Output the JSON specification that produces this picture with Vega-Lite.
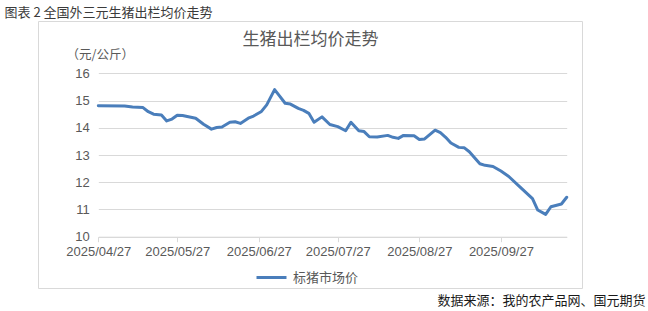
{
  "$schema": "https://vega.github.io/schema/vega-lite/v6.json",
  "width": 544,
  "height": 267,
  "autosize": {"type": "none"},
  "padding": {"left": 38, "top": 21, "right": 66, "bottom": 23},
  "background": "white",
  "data": {
    "values": [
      {"date": "2025-04-27", "price": 14.81},
      {"date": "2025-05-07", "price": 14.80},
      {"date": "2025-05-10", "price": 14.76},
      {"date": "2025-05-14", "price": 14.74},
      {"date": "2025-05-16", "price": 14.59},
      {"date": "2025-05-18", "price": 14.50},
      {"date": "2025-05-21", "price": 14.47},
      {"date": "2025-05-23", "price": 14.25},
      {"date": "2025-05-25", "price": 14.32},
      {"date": "2025-05-27", "price": 14.46},
      {"date": "2025-05-29", "price": 14.45},
      {"date": "2025-06-03", "price": 14.35},
      {"date": "2025-06-06", "price": 14.13},
      {"date": "2025-06-09", "price": 13.95},
      {"date": "2025-06-11", "price": 14.01},
      {"date": "2025-06-13", "price": 14.03},
      {"date": "2025-06-16", "price": 14.20},
      {"date": "2025-06-18", "price": 14.22},
      {"date": "2025-06-20", "price": 14.16},
      {"date": "2025-06-23", "price": 14.35},
      {"date": "2025-06-25", "price": 14.43},
      {"date": "2025-06-28", "price": 14.60},
      {"date": "2025-06-30", "price": 14.84},
      {"date": "2025-07-03", "price": 15.40},
      {"date": "2025-07-05", "price": 15.15},
      {"date": "2025-07-07", "price": 14.90},
      {"date": "2025-07-09", "price": 14.87},
      {"date": "2025-07-12", "price": 14.71},
      {"date": "2025-07-14", "price": 14.64},
      {"date": "2025-07-16", "price": 14.53},
      {"date": "2025-07-18", "price": 14.20},
      {"date": "2025-07-21", "price": 14.40},
      {"date": "2025-07-24", "price": 14.12},
      {"date": "2025-07-27", "price": 14.04},
      {"date": "2025-07-30", "price": 13.89},
      {"date": "2025-08-01", "price": 14.20},
      {"date": "2025-08-04", "price": 13.89},
      {"date": "2025-08-06", "price": 13.86},
      {"date": "2025-08-08", "price": 13.67},
      {"date": "2025-08-11", "price": 13.66},
      {"date": "2025-08-15", "price": 13.72},
      {"date": "2025-08-17", "price": 13.65},
      {"date": "2025-08-19", "price": 13.61},
      {"date": "2025-08-21", "price": 13.72},
      {"date": "2025-08-25", "price": 13.71},
      {"date": "2025-08-27", "price": 13.57},
      {"date": "2025-08-29", "price": 13.59},
      {"date": "2025-09-02", "price": 13.91},
      {"date": "2025-09-04", "price": 13.82},
      {"date": "2025-09-06", "price": 13.65},
      {"date": "2025-09-08", "price": 13.44},
      {"date": "2025-09-11", "price": 13.28},
      {"date": "2025-09-13", "price": 13.27},
      {"date": "2025-09-15", "price": 13.12},
      {"date": "2025-09-19", "price": 12.68},
      {"date": "2025-09-21", "price": 12.62},
      {"date": "2025-09-24", "price": 12.58},
      {"date": "2025-09-27", "price": 12.41},
      {"date": "2025-09-30", "price": 12.21},
      {"date": "2025-10-04", "price": 11.85},
      {"date": "2025-10-09", "price": 11.40},
      {"date": "2025-10-11", "price": 10.98},
      {"date": "2025-10-14", "price": 10.82},
      {"date": "2025-10-16", "price": 11.10},
      {"date": "2025-10-20", "price": 11.20},
      {"date": "2025-10-22", "price": 11.45}
    ]
  },
  "layer": [
    {
      "mark": {"type": "line", "strokeWidth": 3, "strokeJoin": "round", "strokeCap": "round"},
      "encoding": {
        "x": {
          "field": "date",
          "type": "temporal",
          "scale": {
            "type": "utc",
            "domain": [
              {"year": 2025, "month": 4, "date": 27, "utc": true},
              {"year": 2025, "month": 10, "date": 22, "utc": true}
            ],
            "range": [60.3, 528.7]
          },
          "axis": {
            "orient": "bottom",
            "offset": -51.3,
            "values": [
              {"year": 2025, "month": 4, "date": 27, "utc": true},
              {"year": 2025, "month": 5, "date": 27, "utc": true},
              {"year": 2025, "month": 6, "date": 27, "utc": true},
              {"year": 2025, "month": 7, "date": 27, "utc": true},
              {"year": 2025, "month": 8, "date": 27, "utc": true},
              {"year": 2025, "month": 9, "date": 27, "utc": true}
            ],
            "labelExpr": "utcFormat(datum.value, '%Y/%m/%d')",
            "labelFlush": false,
            "labelOverlap": false,
            "grid": false,
            "domain": true,
            "domainColor": "#d9d9d9",
            "ticks": true,
            "tickColor": "#d9d9d9",
            "tickSize": 5,
            "labelPadding": 4,
            "labelFont": "Liberation Sans",
            "labelFontSize": 13,
            "labelColor": "#595959",
            "title": "数据来源：我的农产品网、国元期货",
            "titleX": 607,
            "titleY": 64,
            "titleAlign": "right",
            "titleBaseline": "middle",
            "titleFont": "Noto Sans CJK SC",
            "titleFontSize": 13,
            "titleFontWeight": "normal",
            "titleColor": "#1a1a1a"
          }
        },
        "y": {
          "field": "price",
          "type": "quantitative",
          "scale": {"domain": [10, 16], "range": [215.7, 52.3], "nice": false, "zero": false},
          "axis": {
            "values": [10, 11, 12, 13, 14, 15, 16],
            "offset": -60.3,
            "domain": false,
            "ticks": false,
            "tickSize": 0,
            "labelPadding": 9,
            "labelFont": "Liberation Sans",
            "labelFontSize": 13,
            "labelColor": "#595959",
            "grid": true,
            "gridColor": "#d9d9d9",
            "gridWidth": 1,
            "title": "（元/公斤）",
            "titleAngle": 0,
            "titleAlign": "left",
            "titleBaseline": "middle",
            "titleX": -32.3,
            "titleY": 33,
            "titleFont": "Noto Sans CJK SC",
            "titleFontSize": 12.5,
            "titleFontWeight": "normal",
            "titleColor": "#595959"
          }
        },
        "color": {
          "datum": "标猪市场价",
          "scale": {"range": ["#4a7ebb"]},
          "legend": {
            "orient": "none",
            "legendX": 217,
            "legendY": 240,
            "title": null,
            "padding": 0,
            "symbolType": "stroke",
            "symbolSize": 900,
            "symbolStrokeWidth": 3,
            "labelFont": "Noto Sans CJK SC",
            "labelFontSize": 13,
            "labelColor": "#595959",
            "labelOffset": 5
          }
        }
      }
    },
    {
      "mark": {"type": "line", "strokeOpacity": 0},
      "encoding": {
        "x": {
          "field": "date",
          "type": "temporal",
          "scale": {
            "type": "utc",
            "domain": [
              {"year": 2025, "month": 4, "date": 27, "utc": true},
              {"year": 2025, "month": 10, "date": 22, "utc": true}
            ],
            "range": [60.3, 528.7]
          },
          "axis": {
            "orient": "top",
            "labels": false,
            "ticks": false,
            "domain": false,
            "grid": false,
            "title": "生猪出栏均价走势",
            "titleX": 272,
            "titleY": 18,
            "titleAlign": "center",
            "titleBaseline": "middle",
            "titleFont": "Noto Sans CJK SC",
            "titleFontSize": 17,
            "titleFontWeight": "normal",
            "titleColor": "#595959"
          }
        },
        "y": {
          "field": "price",
          "type": "quantitative",
          "scale": {"domain": [10, 16], "range": [215.7, 52.3], "nice": false, "zero": false},
          "axis": {
            "orient": "right",
            "labels": false,
            "ticks": false,
            "domain": false,
            "grid": false,
            "title": "图表 2 全国外三元生猪出栏均价走势",
            "titleAngle": 0,
            "titleX": -578,
            "titleY": -9,
            "titleAlign": "left",
            "titleBaseline": "middle",
            "titleFont": "Noto Sans CJK SC",
            "titleFontSize": 13,
            "titleFontWeight": "normal",
            "titleColor": "#3b3b3b"
          }
        }
      }
    }
  ],
  "resolve": {"axis": {"x": "independent", "y": "independent"}},
  "config": {"view": {"stroke": "#d9d9d9", "strokeWidth": 1}}
}
